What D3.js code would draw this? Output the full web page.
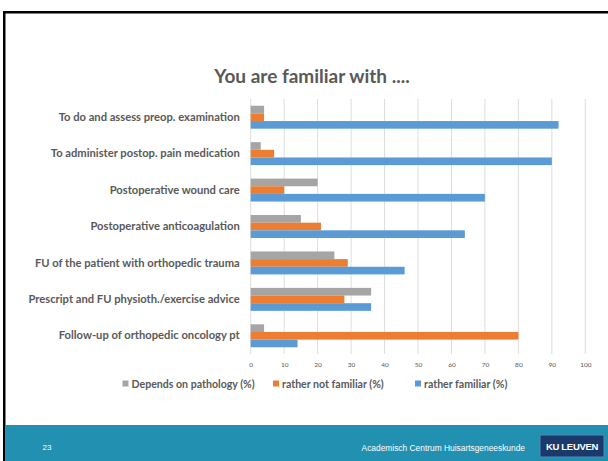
<!DOCTYPE html>
<html>
<head>
<meta charset="utf-8">
<script src="https://cdn.jsdelivr.net/npm/d3@7"></script>
<style>
  body { margin: 0; background: #fff; }
  svg { display: block; }
</style>
</head>
<body>
<svg class="slide" width="608" height="461"></svg>
<script>
const categories = [
    "To do and assess preop. examination",
    "To administer postop. pain medication",
    "Postoperative wound care",
    "Postoperative anticoagulation",
    "FU of the patient with orthopedic trauma",
    "Prescript and FU physioth./exercise advice",
    "Follow-up of orthopedic oncology pt"
];
const seriesNames = ["Depends on pathology (%)", "rather not familiar (%)", "rather familiar (%)"];
const depends = [4, 3, 20, 15, 25, 36, 4];
const notFamiliar = [4, 7, 10, 21, 29, 28, 80];
const familiar = [92, 90, 70, 64, 46, 36, 14];
const xTicks = [0, 10, 20, 30, 40, 50, 60, 70, 80, 90, 100];

const COLORS = ["#A5A5A5", "#ED7D31", "#5B9BD5"];
const TEXT = "#595959";
const FONT = "Lato, 'Open Sans', sans-serif";

const svg = d3.select(".slide");
const W = 608, H = 461;

// slide frame
svg.append("rect").attr("x", 3).attr("y", 11).attr("width", W).attr("height", 2.5).attr("fill", "#000");
svg.append("rect").attr("x", 3).attr("y", 11).attr("width", 2.5).attr("height", H).attr("fill", "#000");

// footer
svg.append("rect").attr("x", 5.5).attr("y", 425).attr("width", W).attr("height", H - 425).attr("fill", "#2190B1");
svg.append("text")
    .attr("x", 47).attr("y", 450)
    .attr("text-anchor", "middle")
    .style("font-family", "'Liberation Sans', Arial, sans-serif")
    .style("font-size", "8px")
    .style("fill", "#fff")
    .text("23");
svg.append("text")
    .attr("x", 525).attr("y", 450.5)
    .attr("text-anchor", "end")
    .style("font-family", "'Liberation Sans', Arial, sans-serif")
    .style("font-size", "8.4px")
    .style("fill", "#fff")
    .text("Academisch Centrum Huisartsgeneeskunde");
svg.append("rect")
    .attr("x", 540).attr("y", 435).attr("width", 64).attr("height", 22)
    .attr("fill", "#1B3A6C").attr("stroke", "#4F86BB").attr("stroke-width", 1);
svg.append("text")
    .attr("x", 572).attr("y", 449.5)
    .attr("text-anchor", "middle")
    .style("font-family", "'Liberation Sans', Arial, sans-serif")
    .style("font-size", "9.5px")
    .style("font-weight", "bold")
    .style("letter-spacing", "-0.3px")
    .style("fill", "#fff")
    .text("KU LEUVEN");

// title
svg.append("text")
    .attr("x", 312).attr("y", 83)
    .attr("text-anchor", "middle")
    .style("font-family", FONT)
    .style("font-size", "19px")
    .style("font-weight", "bold")
    .style("fill", TEXT)
    .text("You are familiar with ....");

// chart
const x = d3.scaleLinear().domain([0, 100]).range([250.7, 585.3]);
const y = d3.scaleBand()
    .domain(categories)
    .range([99, 354])
    .paddingInner(0.37)
    .paddingOuter(0.185);
const ySub = d3.scaleBand()
    .domain(d3.range(seriesNames.length))
    .range([0, y.bandwidth()]);

const grid = svg.append("g");
grid.selectAll("line")
    .data(xTicks)
    .join("line")
    .attr("x1", d => x(d)).attr("x2", d => x(d))
    .attr("y1", 99).attr("y2", 354)
    .attr("stroke", "#D9D9D9")
    .attr("stroke-width", 0.9);

const xAxis = svg.append("g")
    .attr("transform", "translate(0, 354)")
    .call(d3.axisBottom(x).tickValues(xTicks).tickSize(0).tickPadding(8));
xAxis.select(".domain").remove();
xAxis.selectAll("text")
    .style("font-family", FONT)
    .style("font-size", "6.5px")
    .style("fill", TEXT);

const yAxis = svg.append("g")
    .attr("transform", "translate(250.7, 0)")
    .call(d3.axisLeft(y).tickSize(0).tickPadding(11));
yAxis.select(".domain").remove();
yAxis.selectAll("text")
    .style("font-family", FONT)
    .style("font-size", "11.2px")
    .style("font-weight", "bold")
    .style("fill", TEXT);

const allSeries = [depends, notFamiliar, familiar];
const rows = categories.map((c, i) => ({ name: c, values: allSeries.map(s => s[i]) }));

const g = svg.append("g")
    .selectAll("g")
    .data(rows)
    .join("g")
    .attr("transform", d => `translate(0, ${y(d.name)})`);

g.selectAll("rect")
    .data(d => d.values.map((v, k) => ({ v: v, k: k })))
    .join("rect")
    .attr("x", x(0))
    .attr("y", d => ySub(d.k))
    .attr("width", d => x(d.v) - x(0))
    .attr("height", ySub.bandwidth())
    .attr("fill", d => COLORS[d.k]);

// legend
const legendX = [122.5, 273, 415];
const legend = svg.append("g")
    .selectAll("g")
    .data(seriesNames)
    .join("g")
    .attr("transform", (d, i) => `translate(${legendX[i]}, 384)`);
legend.append("rect")
    .attr("x", 0).attr("y", -3.5)
    .attr("width", 6).attr("height", 6)
    .attr("fill", (d, i) => COLORS[i]);
legend.append("text")
    .attr("x", 9).attr("y", 3.8)
    .style("font-family", FONT)
    .style("font-size", "10.6px")
    .style("font-weight", "bold")
    .style("fill", TEXT)
    .text(d => d);
</script>
</body>
</html>
